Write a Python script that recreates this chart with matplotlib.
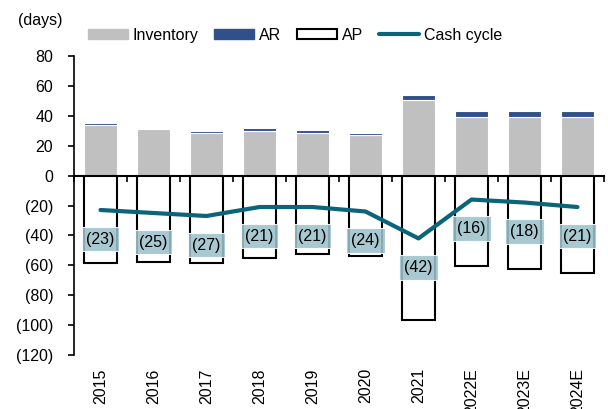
import numpy as np
import matplotlib
matplotlib.use('Agg')
import matplotlib.pyplot as plt
from matplotlib.patches import Patch
from matplotlib.lines import Line2D
from matplotlib.ticker import FuncFormatter

matplotlib.rcParams.update({'font.family': 'Liberation Sans', 'font.size': 11.5})

years = ['2015', '2016', '2017', '2018', '2019', '2020', '2021', '2022E', '2023E', '2024E']
inventory = [34, 31, 28.5, 30, 28.5, 27, 50.5, 39.5, 39.5, 39.5]
ar = [1, 1, 1.5, 2, 1.8, 1.5, 3.3, 4, 4, 4]
ap = [58.5, 58, 58.5, 55, 52.5, 54, 96.5, 60.5, 62.5, 65]
cash_cycle = [-23, -25, -27, -21, -21, -24, -42, -16, -18, -21]

c_inv = '#c0c0c0'
c_ar = '#30508a'
c_cash = '#0b6479'
c_box = '#9cc2cb'

x = np.arange(len(years))
w = 0.64

fig = plt.figure(figsize=(6.08, 4.09), dpi=100)
ax = fig.add_axes([0.1217, 0.132, 0.8717, 0.731])

ax.bar(x, inventory, w, color=c_inv, edgecolor='white', linewidth=0.8, zorder=2)
ax.bar(x, ar, w, bottom=inventory, color=c_ar, edgecolor='white', linewidth=0.8, zorder=2)
ax.bar(x, -np.array(ap), w, color='white', edgecolor='black', linewidth=1.5, zorder=2)
ax.plot(x, cash_cycle, color=c_cash, linewidth=3, solid_capstyle='round', zorder=3)

# value boxes under the cash cycle line
for xi, v in zip(x, cash_cycle):
    ax.annotate('(%d)' % abs(v) if v < 0 else '%d' % v, (xi, v), xytext=(0, -21),
                textcoords='offset points', ha='center', va='center', zorder=4,
                bbox=dict(boxstyle='square,pad=0.3', facecolor=c_box, edgecolor='white',
                          linewidth=0.8, alpha=0.88))

ax.set_xlim(-0.5, len(years) - 0.5)
ax.set_ylim(-120, 80)
ax.set_yticks(np.arange(-120, 81, 20))
ax.yaxis.set_major_formatter(FuncFormatter(lambda v, p: '(%d)' % abs(v) if v < 0 else '%d' % v))
ax.tick_params(axis='y', direction='out', length=4, width=1.2, pad=11)

ax.set_xticks(x)
ax.set_xticklabels(years, rotation=90, va='top')
ax.tick_params(axis='x', length=0, pad=9.5)

for s in ['top', 'right', 'bottom']:
    ax.spines[s].set_visible(False)
ax.spines['left'].set_linewidth(1.2)

# zero line with category separators
zero = ax.secondary_xaxis(0.6)
zero.set_xticks(np.arange(-0.5, len(years), 1))
zero.set_xticklabels([])
zero.tick_params(direction='in', length=4, width=1.2)
for s in zero.spines.values():
    s.set_linewidth(1.5)

handles = [Patch(facecolor=c_inv, edgecolor=c_inv),
           Patch(facecolor=c_ar, edgecolor=c_ar),
           Patch(facecolor='white', edgecolor='black', linewidth=1.5),
           Line2D([0], [0], color=c_cash, linewidth=3, solid_capstyle='round')]
fig.legend(handles, ['Inventory', 'AR', 'AP', 'Cash cycle'], loc='center',
           bbox_to_anchor=(0.485, 0.914), ncol=4, frameon=False,
           handlelength=2.5, handleheight=0.56, handletextpad=0.3, columnspacing=1.0)

fig.text(0.03, 0.951, '(days)', va='center', ha='left')

plt.savefig('out.png', dpi=100)
